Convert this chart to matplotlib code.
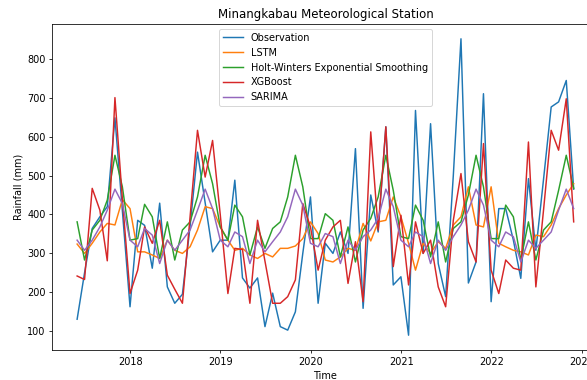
import pandas as pd
import matplotlib
matplotlib.use("Agg")
import matplotlib.pyplot as plt

# monthly dates (month end), June 2017 - Nov 2022
dates = pd.date_range("2017-05-31", periods=67, freq="ME")

observation = [131, 250, 364, 394, 420, 648, 410, 163, 385, 372,
               262, 429, 214, 172, 195, 370, 560, 430, 304, 334,
               334, 488, 237, 211, 237, 112, 198, 112, 103, 150,
               300, 445, 172, 326, 300, 355, 300, 569, 159, 450,
               355, 625, 219, 240, 90, 667, 300, 633, 274, 189,
               500, 851, 224, 278, 710, 176, 415, 415, 334, 236,
               492, 308, 490, 676, 689, 744, 465]

lstm = [324, 300, 326, 355, 377, 373, 438, 415, 304, 304,
        296, 287, 334, 308, 300, 317, 360, 420, 415, 368,
        334, 308, 313, 296, 287, 300, 291, 313, 313, 319,
        338, 381, 351, 283, 278, 291, 313, 308, 377, 332,
        381, 385, 445, 394, 326, 257, 326, 300, 330, 313,
        373, 394, 471, 373, 368, 471, 326, 317, 308, 304,
        296, 347, 343, 373, 415, 450, 479]

holt_winters = [381, 283, 360, 385, 437, 552, 471, 334, 338, 426,
                394, 287, 381, 283, 360, 381, 445, 552, 479, 368,
                334, 424, 394, 296, 368, 313, 364, 381, 445, 552,
                471, 338, 338, 402, 385, 291, 368, 278, 360, 390,
                445, 552, 462, 343, 338, 424, 385, 291, 381, 278,
                364, 381, 450, 552, 471, 338, 338, 424, 394, 283,
                381, 283, 360, 381, 462, 552, 467]

xgboost = [242, 233, 467, 411, 281, 700, 440, 197, 257, 368,
           326, 385, 244, 208, 172, 394, 616, 496, 590, 400,
           197, 313, 310, 172, 385, 280, 172, 172, 189, 232,
           428, 368, 257, 334, 368, 385, 223, 330, 176, 612,
           360, 625, 266, 398, 219, 381, 300, 334, 214, 163,
           385, 505, 330, 278, 582, 257, 197, 283, 262, 257,
           586, 214, 411, 616, 565, 697, 381]

sarima = [334, 308, 334, 368, 411, 465, 428, 334, 317, 364,
          347, 274, 334, 308, 334, 360, 411, 465, 415, 334,
          317, 355, 343, 274, 334, 304, 330, 355, 394, 465,
          424, 326, 317, 351, 343, 274, 334, 308, 343, 360,
          390, 465, 420, 334, 317, 355, 343, 274, 334, 308,
          343, 373, 411, 465, 424, 334, 317, 355, 343, 278,
          334, 313, 334, 355, 411, 465, 415]

DPI = 70.5
fig = plt.figure(figsize=(587 / DPI, 380 / DPI), dpi=DPI)
# axes runs past the right edge, like the cropped original
ax = fig.add_axes([0.0891, 0.0789, 0.9305, 0.858])

ax.plot(dates, observation, label="Observation")
ax.plot(dates, lstm, label="LSTM")
ax.plot(dates, holt_winters, label="Holt-Winters Exponential Smoothing")
ax.plot(dates, xgboost, label="XGBoost")
ax.plot(dates, sarima, label="SARIMA")

ax.set_title("Minangkabau Meteorological Station")
ax.set_xlabel("Time")
ax.set_ylabel("Rainfall (mm)")
ax.legend(loc="upper center")

fig.savefig("out.png", dpi=DPI)
plt.close(fig)
